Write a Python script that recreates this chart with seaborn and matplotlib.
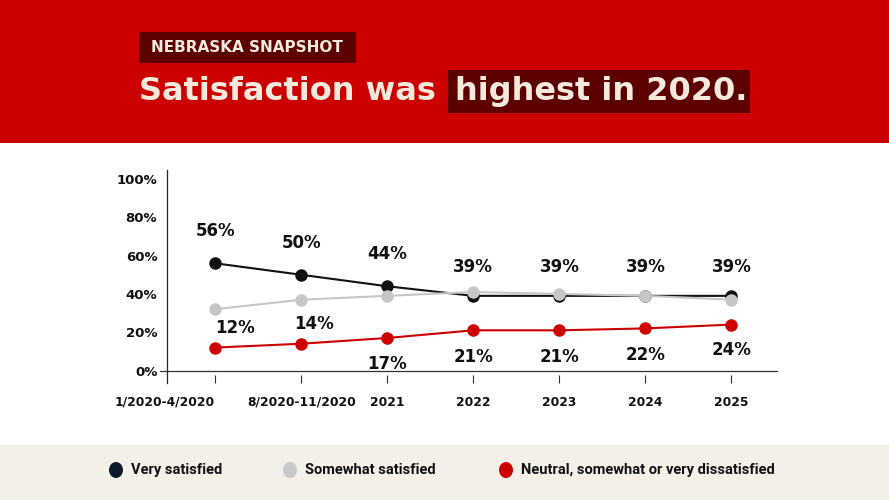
import matplotlib
matplotlib.use("Agg")
import matplotlib.pyplot as plt
import seaborn as sns
import pandas as pd
from matplotlib.patches import Rectangle, Ellipse

periods = ["1/2020-4/2020", "8/2020-11/2020", "2021", "2022", "2023", "2024", "2025"]
very_satisfied = [56, 50, 44, 39, 39, 39, 39]
somewhat_satisfied = [32, 37, 39, 41, 40, 39, 37]
neutral_dissatisfied = [12, 14, 17, 21, 21, 22, 24]
series_names = ["Very satisfied", "Somewhat satisfied", "Neutral, somewhat or very dissatisfied"]
series_colors = ["#111111", "#c6c6c6", "#cc0000"]
legend_colors = ["#0d1a2c", "#c9c9c9", "#cc0000"]
y_ticks = [0, 20, 40, 60, 80, 100]

sns.set_theme(style="white")
plt.rcParams['font.family'] = ['DejaVu Sans']

rows = []
for name, vals in zip(series_names, [very_satisfied, somewhat_satisfied, neutral_dissatisfied]):
    for i, (p, v) in enumerate(zip(periods, vals)):
        rows.append({"idx": i, "period": p, "value": v, "series": name})
df = pd.DataFrame(rows)

fig = plt.figure(figsize=(8.89, 5), dpi=100)
fig.patch.set_facecolor("white")

cream = "#f3e9dc"
# top banner
fig.add_artist(Rectangle((0, 1 - 143 / 500), 1, 143 / 500, transform=fig.transFigure,
                         facecolor="#cc0000", edgecolor="none", zorder=0))
# snapshot box
fig.add_artist(Rectangle((139 / 889, 1 - 63 / 500), 217 / 889, 31 / 500, transform=fig.transFigure,
                         facecolor="#5c0000", edgecolor="none", zorder=1))
fig.text(247 / 889, 1 - 48 / 500, "NEBRASKA SNAPSHOT", ha="center", va="center",
         fontsize=11, fontweight="bold", color=cream, zorder=2)
# highlight box
fig.add_artist(Rectangle((448 / 889, 1 - 113 / 500), 302 / 889, 43 / 500, transform=fig.transFigure,
                         facecolor="#5c0000", edgecolor="none", zorder=1))
fig.text(139 / 889, 1 - 92 / 500, "Satisfaction was", ha="left", va="center",
         fontsize=23, fontweight="bold", color=cream, zorder=2)
fig.text(455 / 889, 1 - 92 / 500, "highest in 2020.", ha="left", va="center",
         fontsize=23, fontweight="bold", color=cream, zorder=2)

# legend band
fig.add_artist(Rectangle((0, 0), 1, 55 / 500, transform=fig.transFigure,
                         facecolor="#f4f0e7", edgecolor="none", zorder=0))
leg_x = [116, 290, 506]
for x, c, name in zip(leg_x, legend_colors, series_names):
    fig.add_artist(Ellipse((x / 889, 1 - 470 / 500), 14 / 889, 16 / 500, transform=fig.transFigure,
                           facecolor=c, edgecolor="none", zorder=2))
    fig.text((x + 15) / 889, 1 - 470 / 500, name, ha="left", va="center",
             fontsize=10.5, fontweight="bold", color="#111111", zorder=2,
             family=["Roboto", "DejaVu Sans"])

ax = fig.add_axes([167 / 889, 1 - 383 / 500, 610 / 889, 213 / 500])
ax.set_facecolor("none")
sns.lineplot(data=df, x="idx", y="value", hue="series", palette=series_colors,
             hue_order=series_names,
             marker="o", markersize=9, markeredgewidth=0, linewidth=1.5,
             legend=False, ax=ax, sort=False)

ax.set_xlim(-0.56, 6.53)
ax.set_ylim(-6.5, 104.7)
ax.set_yticks(y_ticks)
ax.set_yticklabels([f"{t}%" for t in y_ticks], fontsize=9.5, fontweight="bold")
ax.set_xticks(range(len(periods)))
ax.set_xticklabels(periods, fontsize=8.8, fontweight="bold")
xt = ax.get_xticklabels()
xt[0].set_ha("right")
ax.tick_params(axis="x", direction="in", length=6, width=0.8, color="#333333", pad=9, bottom=True)
ax.tick_params(axis="y", length=0, pad=7)
for lab in ax.get_xticklabels() + ax.get_yticklabels():
    lab.set_color("#111111")
ax.set_xlabel("")
ax.set_ylabel("")
for s in ["top", "right", "bottom"]:
    ax.spines[s].set_visible(False)
ax.spines["left"].set_color("#222222")
ax.spines["left"].set_linewidth(0.9)
ax.axhline(0, xmin=-0.012, xmax=1.0, color="#333333", linewidth=0.9, clip_on=False)

for i, v in enumerate(very_satisfied):
    off = 23 if i < 3 else 21
    ax.annotate(f"{v}%", (i, v), xytext=(0, off), textcoords="offset points",
                ha="center", va="center", fontsize=12, fontweight="bold", color="#111111")
for i, v in enumerate(neutral_dissatisfied):
    if i < 2:
        dx, dy = (14 if i == 0 else 9), 14
    else:
        dx, dy = 0, -19 if i < 6 else -18
    ax.annotate(f"{v}%", (i, v), xytext=(dx, dy), textcoords="offset points",
                ha="center", va="center", fontsize=12, fontweight="bold", color="#111111")

fig.savefig("out.png", dpi=100)
